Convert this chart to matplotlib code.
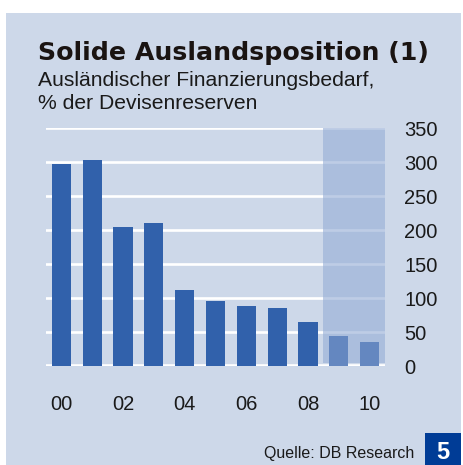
import numpy as np
import matplotlib.pyplot as plt
from matplotlib.patches import Rectangle

years = ['00', '01', '02', '03', '04', '05', '06', '07', '08', '09', '10']
values = [298, 303, 204, 210, 112, 95, 89, 86, 65, 44, 36]
n_actual = 9  # 09 and 10 are forecasts
yticks = [0, 50, 100, 150, 200, 250, 300, 350]

W, H = 463, 465
fig = plt.figure(figsize=(W / 100, H / 100), dpi=100)
fig.patch.set_facecolor('white')

bg = '#cdd8e9'
# panel background
fig.patches.append(Rectangle((6 / W, 0), 455 / W, 1 - 13 / H, transform=fig.transFigure,
                             facecolor=bg, edgecolor='none', zorder=0))

ax = fig.add_axes([46 / W, 1 - 366 / H, 339 / W, 237.7 / H])
ax.set_facecolor('none')
ax.set_zorder(5)

x = np.arange(len(values))
colors = ['#3161ab'] * n_actual + ['#6487c0'] * (len(values) - n_actual)
ax.bar(x, values, width=0.62, color=colors, zorder=3)

for v in yticks:
    ax.axhline(v, color='white', lw=2.6 if v == 0 else 1.9, zorder=1)
ax.axvspan(n_actual - 0.5, len(values) - 0.5, ymin=0.012, ymax=1.0,
           color='#96aed6', alpha=0.62, lw=0, zorder=2)

ax.set_xlim(-0.5, len(values) - 0.5)
ax.set_ylim(0, 350)
ax.set_xticks(x[::2])
ax.set_xticklabels(years[::2])
ax.set_yticks(yticks)
ax.yaxis.tick_right()
for s in ax.spines.values():
    s.set_visible(False)
ax.tick_params(length=0, labelsize=14.5, colors='#1a1a1a')
ax.tick_params(axis='y', pad=14)
ax.tick_params(axis='x', pad=21)
for lab in ax.get_xticklabels() + ax.get_yticklabels():
    lab.set_family('Liberation Sans')

fig.text(38 / W, 1 - 60 / H, 'Solide Auslandsposition (1)', fontsize=18.2,
         fontweight='heavy', family='DejaVu Sans', color='#1a1412')
fig.text(38 / W, 1 - 86 / H, 'Ausländischer Finanzierungsbedarf,', fontsize=15.2,
         family='Liberation Sans', color='#1a1a1a')
fig.text(38 / W, 1 - 109 / H, '% der Devisenreserven', fontsize=15.2,
         family='Liberation Sans', color='#1a1a1a')

fig.text(414 / W, 1 - 458 / H, 'Quelle: DB Research', fontsize=11.5, ha='right',
         family='Liberation Sans', color='#1a1a1a')
fig.patches.append(Rectangle((425 / W, 0), 36 / W, 32 / H, transform=fig.transFigure,
                             facecolor='#003c96', edgecolor='none', zorder=1))
fig.text(443 / W, 1 - 459 / H, '5', fontsize=17, fontweight='bold', ha='center',
         color='white', family='Liberation Sans')

fig.savefig('out.png', dpi=100)
